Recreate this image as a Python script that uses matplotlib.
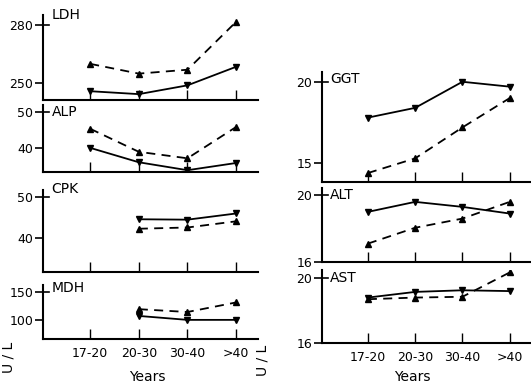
import matplotlib
matplotlib.use('Agg')
import matplotlib.pyplot as plt
import numpy as np

# age groups
ages = ['17-20', '20-30', '30-40', '>40']

# left column (solid = down triangle, dashed = up triangle)
ldh_solid = [246, 244.5, 249, 258.5]
ldh_dashed = [260, 255, 257, 281.5]
alp_solid = [40, 36, 33.8, 35.8]
alp_dashed = [45.3, 38.9, 37.1, 45.8]
cpk_solid = [np.nan, 44.5, 44.4, 45.9]
cpk_dashed = [np.nan, 42.2, 42.5, 44.0]
mdh_solid = [np.nan, 107, 100, 100]
mdh_dashed = [np.nan, 119, 114, 131]

# right column
ggt_solid = [17.8, 18.4, 20.0, 19.7]
ggt_dashed = [14.4, 15.3, 17.2, 19.0]
alt_solid = [19.0, 19.6, 19.3, 18.9]
alt_dashed = [17.1, 18.05, 18.6, 19.6]
ast_solid = [18.8, 19.15, 19.25, 19.2]
ast_dashed = [18.7, 18.8, 18.85, 20.35]

W, H = 531, 389
fig = plt.figure(figsize=(W / 100, H / 100), dpi=100)
x = np.arange(len(ages))


def panel(left, right, top, bottom, ylim, yticks, name, title_y, solid, dashed, labels=False):
    ax = fig.add_axes([left / W, 1 - bottom / H, (right - left) / W, (bottom - top) / H])
    ax.plot(x, solid, '-', color='black', lw=1.3, marker='v', ms=5)
    ax.plot(x, dashed, '--', color='black', lw=1.3, marker='^', ms=5, dashes=(5, 3.5))
    ax.set_xlim(-0.97, 3.45)
    ax.set_ylim(*ylim)
    ax.set_yticks(yticks)
    ax.set_xticks(x)
    ax.set_xticklabels(ages if labels else [])
    for s in ['top', 'right']:
        ax.spines[s].set_visible(False)
    for s in ['left', 'bottom']:
        ax.spines[s].set_linewidth(1.5)
    ax.tick_params(axis='y', direction='out', length=6, width=1.2, labelsize=9, pad=1)
    ax.tick_params(axis='x', direction='in', length=7, width=1, labelsize=9, pad=6)
    # the top tick runs a little into the panel, next to the name
    ax.axhline(yticks[-1], xmin=0, xmax=0.03, color='black', lw=1.2)
    ax.set_facecolor('none')
    ax.text(0.04, title_y, name, transform=ax.get_yaxis_transform(), fontsize=10,
            va='center', ha='left')
    return ax


# left column
panel(43, 258, 15, 100, (241.5, 285), [250, 280], 'LDH', 285, ldh_solid, ldh_dashed)
panel(43, 258, 105, 172, (33.3, 51.9), [40, 50], 'ALP', 50, alp_solid, alp_dashed)
panel(43, 258, 190, 272, (31.7, 51.6), [40, 50], 'CPK', 51.8, cpk_solid, cpk_dashed)
panel(43, 258, 285, 339, (66, 162), [100, 150], 'MDH', 157, mdh_solid, mdh_dashed, labels=True)

# right column
panel(322, 531, 72, 182, (13.85, 20.6), [15, 20], 'GGT', 20.2, ggt_solid, ggt_dashed)
panel(322, 531, 188, 262, (16, 20.43), [16, 20], 'ALT', 20, alt_solid, alt_dashed)
panel(322, 531, 270, 343, (16, 20.5), [16, 20], 'AST', 20, ast_solid, ast_dashed, labels=True)

fig.text(147 / W, 1 - 377 / H, 'Years', fontsize=10, ha='center', va='center')
fig.text(412 / W, 1 - 377 / H, 'Years', fontsize=10, ha='center', va='center')
fig.text(8 / W, 1 - 357 / H, 'U / L', fontsize=10, rotation=90, ha='center', va='center')
fig.text(263 / W, 1 - 360 / H, 'U / L', fontsize=10, rotation=90, ha='center', va='center')

fig.savefig('out.png', dpi=100)
